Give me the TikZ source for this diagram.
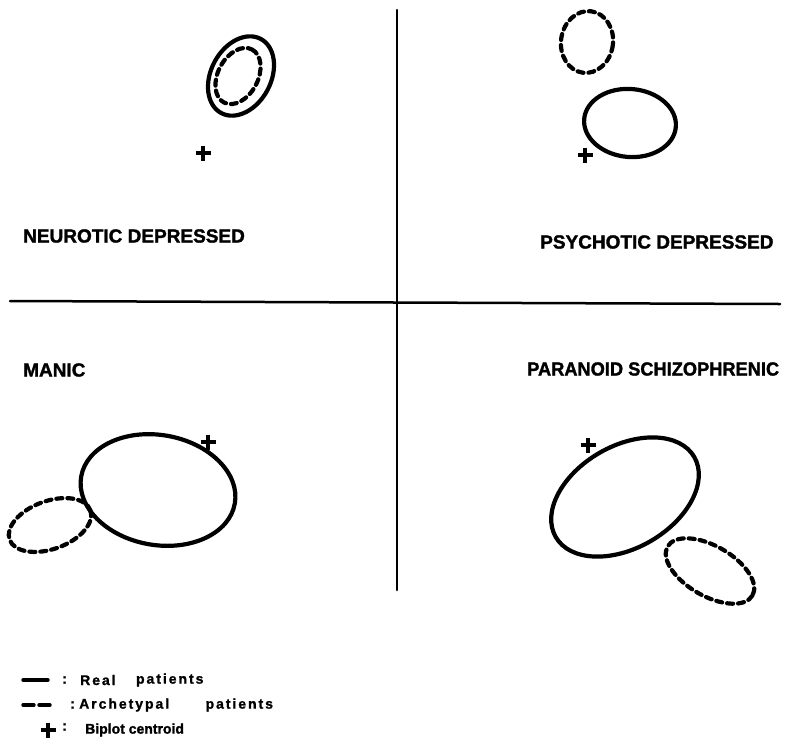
\documentclass[tikz,border=0pt]{standalone}
\usepackage{fontspec}
\setmainfont{Liberation Sans}
\newfontfamily\heavyfont{Liberation Sans}[UprightFont={* Bold},FakeBold=1.6]
\newfontfamily\legfont{Liberation Sans}[UprightFont={* Bold},FakeBold=1.2,LetterSpace=14]
\usetikzlibrary{positioning}
\tikzset{
  real/.style={line width=4.2pt},
  arche/.style={line width=4.2pt,dash pattern=on 6pt off 5pt},
  axis/.style={line width=2.5pt},
  group/.style={font=\fontsize{19}{19}\selectfont\heavyfont,inner sep=0pt,anchor=west},
  legtext/.style={font=\fontsize{14}{14}\selectfont\legfont,inner sep=0pt,anchor=west},
  centroid/.pic={\draw[line width=3.4pt,line cap=butt] (-7.5,0)--(7.5,0) (0,-7.5)--(0,7.5);}
}
\begin{document}
\begin{tikzpicture}[line cap=round,line join=round,x=1pt,y=-1pt]
\useasboundingbox (0,0) rectangle (805,750);
% axes
\draw[axis] (397,10) -- (397,590);
\draw[axis] (10,301) -- (780,304);
% neurotic depressed
\draw[real,rotate around={62:(241,76)}] (241,76) ellipse (42 and 30);
\draw[arche,rotate around={62:(238,76)}] (238,76) ellipse (30 and 20);
\pic at (203,153) {centroid};
\node (neuro) [group] at (23,236) {NEUROTIC DEPRESSED};
% psychotic depressed
\draw[arche,rotate around={-8:(587,42)}] (587,42) ellipse (26 and 31);
\draw[real,rotate around={-5:(630,123)}] (630,123) ellipse (46 and 34);
\pic at (585,155) {centroid};
\node (psycho) [group] at (540,242) {PSYCHOTIC DEPRESSED};
% manic
\draw[real,rotate around={-10:(158,490)}] (158,490) ellipse (78 and 55);
\draw[arche,rotate around={20:(50,525)}] (50,525) ellipse (43 and 24);
\pic at (208,442) {centroid};
\node (manic) [group] at (23,370) {MANIC};
% paranoid schizophrenic
\draw[real,rotate around={30:(625,497)}] (625,497) ellipse (80 and 51);
\draw[arche,rotate around={-30:(710,571)}] (710,571) ellipse (49 and 25);
\pic at (588,445) {centroid};
\node (para) [group] at (527,369) {\scalebox{0.96}[1]{PARANOID SCHIZOPHRENIC}};
% legend
\draw[line width=3.4pt] (23,680) -- (48,680);
\node (cola) [legtext] at (62,680) {:};
\node (reala) [legtext] at (80,680) {Real};
\node (realb) [legtext,right=20pt of reala] {patients};
\draw[line width=3.4pt] (23,705) -- (34,705) (39,705) -- (50,705);
\node (colb) [legtext] at (70,705) {:};
\node (archa) [legtext] at (79,705) {Archetypal};
\node (archb) [legtext,right=36pt of archa] {patients};
\pic at (48,730) {centroid};
\node (colc) [legtext] at (62,727) {:};
\node (bipl) [legtext,font=\fontsize{14}{14}\selectfont\heavyfont] at (85,730) {Biplot centroid};
\end{tikzpicture}
\end{document}
